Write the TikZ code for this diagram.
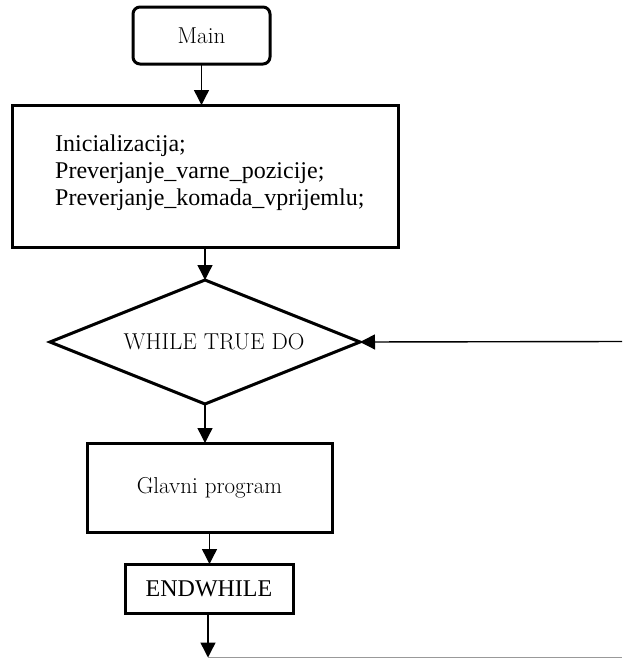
\documentclass[tikz,border=0pt]{standalone}
\usepackage{fontspec}
\newfontfamily\timesfont{Liberation Serif}
\usetikzlibrary{arrows.meta,shapes.geometric}
\begin{document}
\begin{tikzpicture}[x=1pt,y=-1pt,
  box/.style={draw=black,line width=3pt,inner sep=0pt,outer sep=0pt},
  flow/.style={draw=black,line width=1.4pt,-{Triangle[length=15pt,width=15pt]}},
  plain/.style={draw=black!40,line width=1.2pt},
  garamond/.style={font=\fontsize{23}{27}\selectfont},
  times/.style={font=\timesfont\fontsize{24}{27}\selectfont}]
\useasboundingbox (0,0) rectangle (622,659);

% blocks of the flow chart
\node[box,rounded corners=7pt,minimum width=137pt,minimum height=57pt,garamond]
  (main) at (201.5,35.5) {Main};
\node[box,minimum width=386pt,minimum height=142pt] (init) at (205,176) {};
\node[times,align=left,inner sep=0pt,anchor=north west] (inittxt) at (55,134.6)
  {Inicializacija;\\Preverjanje\_varne\_pozicije;\\Preverjanje\_komada\_vprijemlu;};
\node[box,diamond,aspect=2.5,minimum width=310pt,minimum height=124pt]
  (loop) at (205,342) {};
\node[garamond,inner sep=0pt] (looptxt) at (214,342) {WHILE TRUE DO};
\node[box,minimum width=245pt,minimum height=89pt,garamond]
  (body) at (209.5,487.5) {Glavni program};
\node[box,minimum width=168pt,minimum height=49pt,times]
  (endw) at (209,588.5) {ENDWHILE};

% loose ends of the loop lines
\coordinate (back) at (622,341.5);
\coordinate (exit) at (208,657.5);
\coordinate (exitend) at (622,657.5);

% connectors
\draw[flow] (main.south) -- (main.south |- init.north);
\draw[flow] (init.south) -- (loop.north);
\draw[flow] (loop.south) -- (loop.south |- body.north);
\draw[flow] (body.south) -- (body.south |- endw.north);
\draw[flow] (back) -- (loop.east);
\draw[flow] (endw.south -| exit) -- (exit);
\draw[plain] (exit) -- (exitend);
\end{tikzpicture}
\end{document}
